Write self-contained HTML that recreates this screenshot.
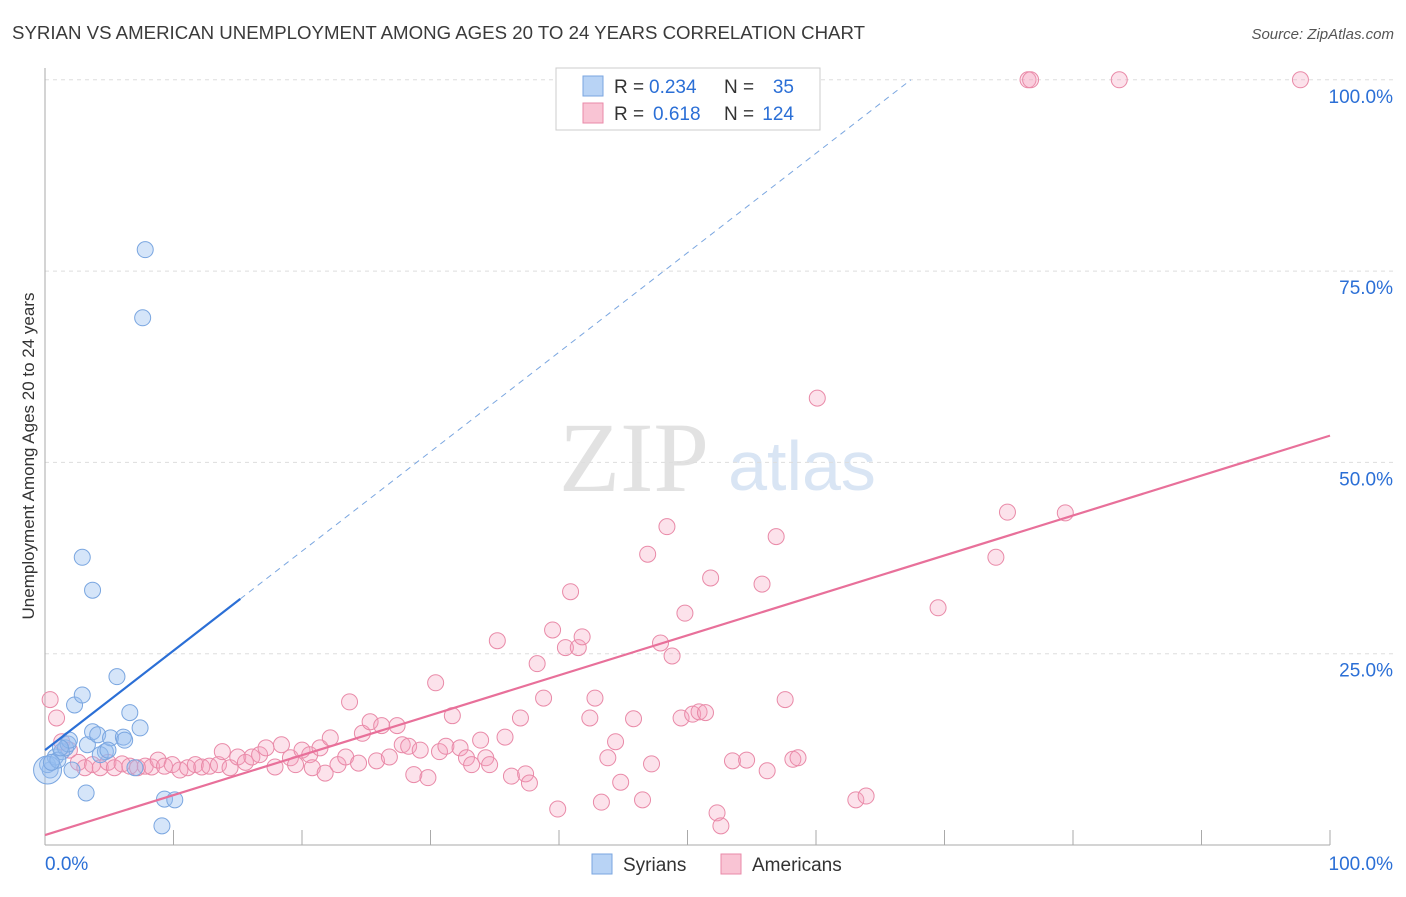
<!DOCTYPE html>
<html><head><meta charset="utf-8"><style>
body{margin:0;background:#fff;font-family:"Liberation Sans",sans-serif;}
</style></head><body>
<svg id="chart" width="1406" height="892" font-family="Liberation Sans, sans-serif">
<text x="12" y="39" font-size="18" fill="#3a3a3a" textLength="853" lengthAdjust="spacingAndGlyphs">SYRIAN VS AMERICAN UNEMPLOYMENT AMONG AGES 20 TO 24 YEARS CORRELATION CHART</text>
<text x="1394" y="39" font-size="15" fill="#555" font-style="italic" text-anchor="end">Source: ZipAtlas.com</text>
<text x="634" y="491" font-size="100" fill="#e2e2e2" style="font-family:'Liberation Serif',serif" text-anchor="middle">ZIP</text>
<text x="802" y="490" font-size="70" fill="#d9e5f4" text-anchor="middle">atlas</text>
<g id="grid"></g><g id="axes"></g><g id="marks"></g>
<g>
<rect x="556" y="68" width="264" height="62" fill="#fff" stroke="#ccc"/>
<rect x="583" y="76" width="20" height="20" fill="#b8d3f5" stroke="#7aa6e0"/>
<rect x="583" y="103" width="20" height="20" fill="#f9c4d4" stroke="#e98aa8"/>
<text x="614" y="93" font-size="19" fill="#333">R =</text>
<text x="649" y="93" font-size="19" fill="#2b6fd6">0.234</text>
<text x="724" y="93" font-size="19" fill="#333">N =</text>
<text x="794" y="93" font-size="19" fill="#2b6fd6" text-anchor="end">35</text>
<text x="614" y="120" font-size="19" fill="#333">R =</text>
<text x="653" y="120" font-size="19" fill="#2b6fd6">0.618</text>
<text x="724" y="120" font-size="19" fill="#333">N =</text>
<text x="794" y="120" font-size="19" fill="#2b6fd6" text-anchor="end">124</text>
</g>
<g>
<rect x="592" y="854" width="20" height="20" fill="#b8d3f5" stroke="#7aa6e0"/>
<text x="623" y="871" font-size="19" fill="#333">Syrians</text>
<rect x="721" y="854" width="20" height="20" fill="#f9c4d4" stroke="#e98aa8"/>
<text x="752" y="871" font-size="19" fill="#333">Americans</text>
</g>
<text transform="translate(34,456) rotate(-90)" font-size="17" fill="#333" text-anchor="middle">Unemployment Among Ages 20 to 24 years</text>
</svg>
<script>
const yTicks=[25,50,75,100];
const yTickLabels=["25.0%","50.0%","75.0%","100.0%"];
const syrX=[0.4,0.2,0.8,1.3,1.6,1.8,2.1,2.3,2.9,2.9,3.7,3.2,3.3,3.7,4.1,4.7,5.1,5.6,6.1,6.6,7.0,7.4,7.8,7.6,9.3,10.1,9.1,0.2,1.0,1.9,4.3,4.9,6.2,1.2,0.5];
const syrY=[9.8,10.5,11.5,12.2,12.7,13.2,9.8,18.3,19.6,37.6,33.3,6.8,13.1,14.8,14.4,12.2,14.0,22.0,14.1,17.3,10.1,15.3,77.8,68.9,6.0,5.9,2.5,9.8,11.1,13.7,11.8,12.4,13.7,12.7,10.8];
const amX=[0.4,0.9,1.3,1.9,2.6,3.1,3.7,4.3,4.9,5.4,6.0,6.6,7.2,7.8,8.3,8.8,9.3,9.9,10.5,11.1,11.7,12.2,12.8,13.5,13.8,14.4,15.0,15.6,16.1,16.7,17.2,17.9,18.4,19.1,19.5,20.0,20.6,20.8,21.4,21.8,22.2,22.8,23.4,23.7,24.4,24.7,25.3,25.8,26.2,26.8,27.4,27.8,28.3,28.7,29.2,29.8,30.4,30.7,31.2,31.7,32.3,32.8,33.2,33.9,34.3,34.6,35.2,35.8,36.3,37.0,37.4,37.7,38.3,38.8,39.5,39.9,40.5,40.9,41.5,41.8,42.4,42.8,43.3,43.8,44.4,44.8,45.8,46.5,46.9,47.2,47.9,48.4,48.8,49.5,49.8,50.4,50.9,51.4,51.8,52.3,52.6,53.5,54.6,55.8,56.2,56.9,57.6,58.2,58.6,60.1,63.1,63.9,69.5,74.0,74.9,76.5,76.7,79.4,83.6,97.7];
const amY=[19.0,16.6,13.5,12.4,10.8,10.1,10.5,10.1,10.8,10.1,10.6,10.3,10.1,10.3,10.2,11.1,10.3,10.5,9.8,10.1,10.5,10.2,10.3,10.5,12.2,10.1,11.5,10.8,11.5,11.8,12.7,10.2,13.1,11.4,10.5,12.4,11.8,10.1,12.7,9.4,14.0,10.5,11.5,18.7,10.7,14.6,16.1,11.0,15.6,11.5,15.6,13.1,12.9,9.2,12.4,8.8,21.2,12.2,12.9,16.9,12.7,11.4,10.5,13.7,11.4,10.5,26.7,14.1,9.0,16.6,9.3,8.1,23.7,19.2,28.1,4.7,25.8,33.1,25.8,27.2,16.6,19.2,5.6,11.4,13.5,8.2,16.5,5.9,38.0,10.6,26.4,41.6,24.7,16.6,30.3,17.1,17.4,17.3,34.9,4.2,2.5,11.0,11.1,34.1,9.7,40.3,19.0,11.2,11.4,58.4,5.9,6.4,31.0,37.6,43.5,100,100,43.4,100,100];
const syrTrend=[12.4,1.30];
const amTrend=[1.3,0.522];
const NS="http://www.w3.org/2000/svg";
const X=v=>45+v*12.85, Y=v=>845-v*7.652;
function mk(tag,attrs,parent){const e=document.createElementNS(NS,tag);for(const k in attrs)e.setAttribute(k,attrs[k]);parent.appendChild(e);return e;}
const grid=document.getElementById('grid'),axes=document.getElementById('axes'),marks=document.getElementById('marks');
yTicks.forEach((t,i)=>{
 const l=mk('line',{x1:45,x2:1394,y1:Y(t),y2:Y(t),stroke:'#ddd','stroke-dasharray':'4,4'},grid);
 
 
 const tx=mk('text',{x:1393,y:Y(t)+23,'font-size':19,fill:'#2b6fd6','text-anchor':'end'},axes);
 tx.textContent=yTickLabels[i];
 
 
});
const ax=mk('line',{x1:45,x2:1330,y1:845,y2:845,stroke:'#aaa'},axes);


const ay=mk('line',{x1:45,x2:45,y1:68,y2:845,stroke:'#aaa'},axes);


for(let i=0;i<=10;i++){const t=mk('line',{x1:X(i*10),x2:X(i*10),y1:830,y2:845,stroke:'#aaa'},axes);
 
 }
[["0.0%",45,'start'],["100.0%",1393,'end']].forEach(a=>{const t=mk('text',{x:a[1],y:870,'font-size':19,fill:'#2b6fd6','text-anchor':a[2]},axes);t.textContent=a[0];
 
 });
amX.forEach((x,i)=>{const c=mk('circle',{cx:X(x),cy:Y(amY[i]),r:8,fill:'rgba(244,160,190,0.3)',stroke:'#e98aa8','stroke-width':1},marks);
 
 });
syrX.forEach((x,i)=>{const c=mk('circle',{cx:X(x),cy:Y(syrY[i]),r:i==27?14:8,fill:'rgba(150,190,240,0.4)',stroke:'#7aa6e0','stroke-width':1},marks);
 
 });
const a1=mk('line',{x1:X(0),y1:Y(amTrend[0]),x2:X(100),y2:Y(amTrend[0]+amTrend[1]*100),stroke:'#e8709a','stroke-width':2.2},marks);


const xEnd=(100-syrTrend[0])/syrTrend[1];
const s1=mk('line',{x1:X(0),y1:Y(syrTrend[0]),x2:X(15.2),y2:Y(syrTrend[0]+syrTrend[1]*15.2),stroke:'#2b6fd6','stroke-width':2.2},marks);


const s2=mk('line',{x1:X(15.2),y1:Y(syrTrend[0]+syrTrend[1]*15.2),x2:X(xEnd),y2:Y(100),stroke:'#7aa6e0','stroke-width':1,'stroke-dasharray':'6,5'},marks);


</script>
</body></html>
